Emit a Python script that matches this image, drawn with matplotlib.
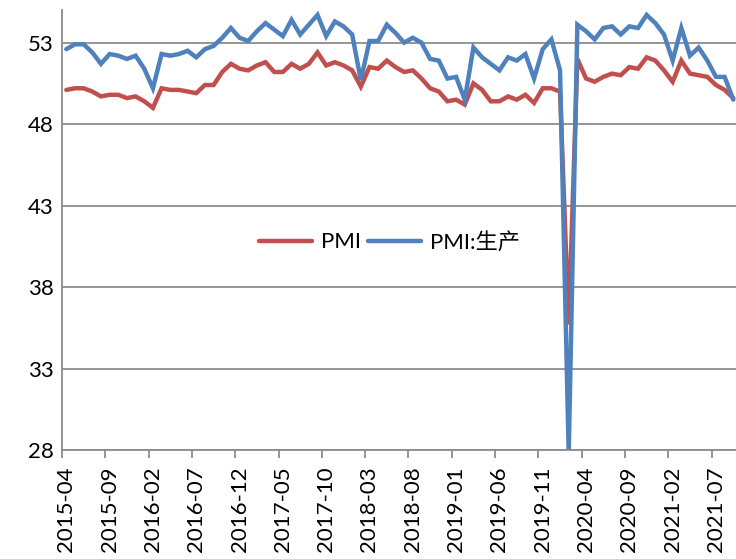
import matplotlib
matplotlib.use('Agg')
from matplotlib import pyplot as plt

# monthly data, 2015-04 .. 2021-09
start_year, start_month = 2015, 4
pmi = [50.1, 50.2, 50.2, 50.0, 49.7, 49.8, 49.8, 49.6, 49.7,
       49.4, 49.0, 50.2, 50.1, 50.1, 50.0, 49.9, 50.4, 50.4, 51.2, 51.7, 51.4,
       51.3, 51.6, 51.8, 51.2, 51.2, 51.7, 51.4, 51.7, 52.4, 51.6, 51.8, 51.6,
       51.3, 50.3, 51.5, 51.4, 51.9, 51.5, 51.2, 51.3, 50.8, 50.2, 50.0, 49.4,
       49.5, 49.2, 50.5, 50.1, 49.4, 49.4, 49.7, 49.5, 49.8, 49.3, 50.2, 50.2,
       50.0, 35.7, 52.0, 50.8, 50.6, 50.9, 51.1, 51.0, 51.5, 51.4, 52.1, 51.9,
       51.3, 50.6, 51.9, 51.1, 51.0, 50.9, 50.4, 50.1, 49.6]
production = [52.6, 52.9, 52.9, 52.4, 51.7, 52.3, 52.2, 52.0, 52.2,
              51.4, 50.2, 52.3, 52.2, 52.3, 52.5, 52.1, 52.6, 52.8, 53.3, 53.9, 53.3,
              53.1, 53.7, 54.2, 53.8, 53.4, 54.4, 53.5, 54.1, 54.7, 53.4, 54.3, 54.0,
              53.5, 50.7, 53.1, 53.1, 54.1, 53.6, 53.0, 53.3, 53.0, 52.0, 51.9, 50.8,
              50.9, 49.5, 52.7, 52.1, 51.7, 51.3, 52.1, 51.9, 52.3, 50.8, 52.6, 53.2,
              51.3, 27.8, 54.1, 53.7, 53.2, 53.9, 54.0, 53.5, 54.0, 53.9, 54.7, 54.2,
              53.5, 51.9, 53.9, 52.2, 52.7, 51.9, 50.9, 50.9, 49.5]

months = []
for i in range(len(pmi)):
    m = start_month - 1 + i
    months.append('%d-%02d' % (start_year + m // 12, m % 12 + 1))
x = list(range(len(months)))

fig = plt.figure(figsize=(7.36, 5.59), dpi=100)
ax = fig.add_axes([0.0842, 0.195, 0.918, 0.787])

ax.plot(x, pmi, color='#C0504D', lw=3.2, label='PMI',
        solid_joinstyle='miter', solid_capstyle='round')
ax.plot(x, production, color='#4F81BD', lw=3.2, label='PMI:生产',
        solid_joinstyle='miter', solid_capstyle='round')

ax.set_ylim(28, 55)
ax.set_yticks([28, 33, 38, 43, 48, 53])
ax.set_xlim(-0.5, len(x) - 0.5)
ax.yaxis.grid(True, color='#8c8c8c', lw=1.3)
ax.set_axisbelow(True)

# labels at month centres, tick marks at category boundaries
ax.set_xticks(x[::5])
ax.set_xticklabels(months[::5], rotation=90)
ax.set_xticks([i - 0.5 for i in x[::5]], minor=True)
ax.tick_params(axis='x', which='major', length=0, pad=12)
ax.tick_params(axis='x', which='minor', length=6, width=1.3, color='#8c8c8c', direction='out')
ax.tick_params(axis='y', length=0, pad=6)
ax.tick_params(axis='both', which='major', labelsize=16)
for lab in ax.get_xticklabels() + ax.get_yticklabels():
    lab.set_family('Lato')

for s in ['top', 'right']:
    ax.spines[s].set_visible(False)
ax.spines['left'].set_color('#8c8c8c')
ax.spines['left'].set_linewidth(1.3)
ax.spines['bottom'].set_color('#8c8c8c')
ax.spines['bottom'].set_linewidth(1.3)

ax.legend(loc='center', bbox_to_anchor=(0.485, 0.473), ncol=2, frameon=False,
          prop={'family': ['Lato', 'Noto Sans CJK SC'], 'size': 16},
          handlelength=2.4, columnspacing=0.3, handletextpad=0.4)

plt.savefig('out.png', dpi=100)
